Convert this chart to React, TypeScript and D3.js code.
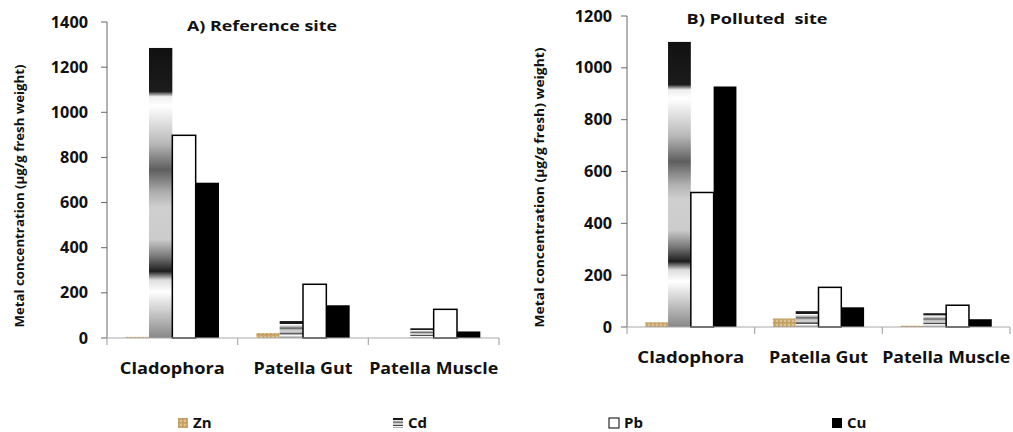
import React from "react";
import * as d3 from "d3";

const categories = ["Cladophora", "Patella Gut", "Patella Muscle"];
const metals = ["Zn", "Cd", "Pb", "Cu"];

const refZn = [5, 22, 0];
const refCd = [1285, 75, 43];
const refPb = [898, 238, 127];
const refCu = [688, 145, 29];

const polZn = [18, 33, 5];
const polCd = [1100, 61, 53];
const polPb = [519, 153, 84];
const polCu = [928, 76, 30];

const refTicks = [0, 200, 400, 600, 800, 1000, 1200, 1400];
const polTicks = [0, 200, 400, 600, 800, 1000, 1200];

const FONT = "'Open Sans', Lato, sans-serif";

const fills: Record<string, string> = {
  Zn: "url(#znPat)",
  Cd: "url(#cdGrad)",
  Pb: "#ffffff",
  Cu: "#000000",
};

type PanelProps = {
  title: string;
  titleX: number;
  titleY: number;
  titleLen: number;
  yTitle: string;
  yTitleX: number;
  yTitleLen: number;
  series: number[][];
  ticks: number[];
  yMax: number;
  x0: number;
  x1: number;
  yTop: number;
  yBottom: number;
  tickLabelGap: number;
  catLabelY: number;
  catLens: number[];
};

function Panel(p: PanelProps) {
  const x = d3.scaleBand<string>().domain(categories).range([p.x0, p.x1]).padding(0);
  const xm = d3.scaleBand<string>().domain(metals).range([0, x.bandwidth()]).paddingInner(0).paddingOuter(0.8);
  const y = d3.scaleLinear().domain([0, p.yMax]).range([p.yBottom, p.yTop]);
  const bounds = [...categories.map((c) => x(c) as number), p.x1];
  return (
    <g>
      {categories.map((c, ci) =>
        metals.map((m, mi) => {
          const v = p.series[mi][ci];
          if (v <= 0) return null;
          const bx = (x(c) as number) + (xm(m) as number);
          const by = y(v);
          const h = y(0) - by;
          return (
            <rect
              key={c + m}
              x={bx}
              y={by}
              width={xm.bandwidth()}
              height={h}
              fill={fills[m]}
              stroke={m === "Pb" ? "#000" : "none"}
              strokeWidth={m === "Pb" ? 1.5 : 0}
            />
          );
        })
      )}
      <line x1={p.x0} x2={p.x0} y1={p.yTop} y2={p.yBottom} stroke="#666" strokeWidth={1} />
      {p.ticks.map((t) => (
        <g key={t}>
          <line x1={p.x0 - 6} x2={p.x0} y1={y(t)} y2={y(t)} stroke="#666" strokeWidth={1} />
          <text
            x={p.x0 - p.tickLabelGap}
            y={y(t)}
            dy="0.36em"
            textAnchor="end"
            fontFamily={FONT}
            fontWeight={700}
            fontSize={15.5}
            fill="#111"
            textLength={String(t).length * 9.3}
            lengthAdjust="spacingAndGlyphs"
          >
            {t}
          </text>
        </g>
      ))}
      <line x1={p.x0} x2={p.x1} y1={p.yBottom} y2={p.yBottom} stroke="#aaa" strokeWidth={1.2} />
      {bounds.map((b, i) => (
        <line key={i} x1={b} x2={b} y1={p.yBottom} y2={p.yBottom + 7} stroke="#aaa" strokeWidth={1.2} />
      ))}
      {categories.map((c, ci) => (
        <text
          key={c}
          x={(x(c) as number) + x.bandwidth() / 2}
          y={p.catLabelY}
          textAnchor="middle"
          fontFamily={FONT}
          fontWeight={700}
          fontSize={16}
          fill="#111"
          textLength={p.catLens[ci]}
          lengthAdjust="spacingAndGlyphs"
        >
          {c}
        </text>
      ))}
      <text
        x={p.titleX}
        y={p.titleY}
        textAnchor="middle"
        fontFamily={FONT}
        fontWeight={700}
        fontSize={15}
        fill="#111"
        style={{ whiteSpace: "pre" }}
        textLength={p.titleLen}
        lengthAdjust="spacingAndGlyphs"
      >
        {p.title}
      </text>
      <text
        transform={`translate(${p.yTitleX},${(p.yTop + p.yBottom) / 2 + 16}) rotate(-90)`}
        textAnchor="middle"
        fontFamily={FONT}
        fontWeight={700}
        fontSize={12}
        fill="#111"
        textLength={p.yTitleLen}
        lengthAdjust="spacingAndGlyphs"
      >
        {p.yTitle}
      </text>
    </g>
  );
}

const legendX = [178, 393, 609, 832];

export default function App() {
  return (
    <svg
      width={1013}
      height={432}
      style={{ position: "absolute", left: 0, top: 0, background: "#fff" }}
    >
      <defs>
        <linearGradient id="cdGrad" x1="0" y1="0" x2="0" y2="1">
          <stop offset="0" stopColor="#111" />
          <stop offset="0.15" stopColor="#1c1c1c" />
          <stop offset="0.168" stopColor="#eeeeee" />
          <stop offset="0.2" stopColor="#ffffff" />
          <stop offset="0.33" stopColor="#b8b8b8" />
          <stop offset="0.42" stopColor="#5e5e5e" />
          <stop offset="0.5" stopColor="#b0b0b0" />
          <stop offset="0.55" stopColor="#cfcfcf" />
          <stop offset="0.66" stopColor="#cccccc" />
          <stop offset="0.72" stopColor="#777" />
          <stop offset="0.77" stopColor="#1e1e1e" />
          <stop offset="0.8" stopColor="#dddddd" />
          <stop offset="0.84" stopColor="#ffffff" />
          <stop offset="1" stopColor="#878787" />
        </linearGradient>
        <pattern id="znPat" width="4" height="4" patternUnits="userSpaceOnUse">
          <rect width="4" height="4" fill="#c9a66b" />
          <rect x="0" y="0" width="2" height="2" fill="#dcc291" />
          <rect x="2" y="2" width="1" height="1" fill="#b08a4d" />
        </pattern>
      </defs>
      <Panel
        title="A) Reference site"
        titleX={262}
        titleY={31}
        titleLen={150}
        yTitle="Metal concentration (µg/g fresh weight)"
        yTitleX={24}
        yTitleLen={263}
        series={[refZn, refCd, refPb, refCu]}
        ticks={refTicks}
        yMax={1400}
        x0={107}
        x1={499}
        yTop={22}
        yBottom={338}
        tickLabelGap={19}
        catLabelY={374}
        catLens={[105, 99, 129]}
      />
      <Panel
        title="B) Polluted  site"
        titleX={757}
        titleY={24}
        titleLen={141}
        yTitle="Metal concentration (µg/g fresh) weight)"
        yTitleX={544}
        yTitleLen={280}
        series={[polZn, polCd, polPb, polCu]}
        ticks={polTicks}
        yMax={1200}
        x0={627}
        x1={1010}
        yTop={16}
        yBottom={327}
        tickLabelGap={15}
        catLabelY={363}
        catLens={[107, 99, 128]}
      />
      {metals.map((m, i) => (
        <g key={m}>
          <rect
            x={legendX[i]}
            y={418}
            width={10}
            height={10}
            fill={fills[m]}
            stroke={m === "Pb" ? "#000" : "none"}
            strokeWidth={m === "Pb" ? 1 : 0}
          />
          <text
            x={legendX[i] + 15}
            y={428}
            fontFamily={FONT}
            fontWeight={700}
            fontSize={15}
            fill="#111"
          >
            {m}
          </text>
        </g>
      ))}
    </svg>
  );
}
